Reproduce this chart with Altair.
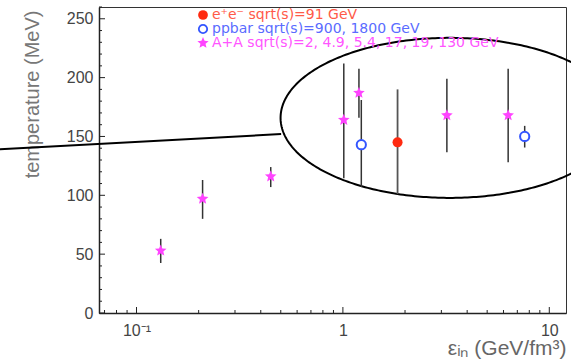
import numpy as np
import pandas as pd
import altair as alt

# ---------------- data ----------------
# A+A collisions (stars)
aa_x = [0.131, 0.209, 0.447, 1.01, 1.196, 3.19, 6.32]
aa_y = [53, 97, 116, 164, 187, 168, 168]
aa_lo = [42.5, 80, 107, 114.5, 166, 136.6, 128]
aa_hi = [63, 113, 124, 212, 207.5, 199, 207.5]

# ppbar (open circles)
pp_x = [1.228, 7.6]
pp_y = [143, 150]
pp_lo = [107, 140.6]
pp_hi = [181, 159]

# e+e- (filled circle)
ee_x = [1.84]
ee_y = [145]
ee_lo = [101]
ee_hi = [190]

legend_labels = [
    "e\u207ae\u207b sqrt(s)=91 GeV",
    "ppbar sqrt(s)=900, 1800 GeV",
    "A+A sqrt(s)=2, 4.9, 5.4, 17, 19, 130 GeV",
]

y_major = [0, 50, 100, 150, 200, 250]
y_minor = [v for v in range(0, 261, 10) if v % 50 != 0]
x_major = [0.1, 1, 10]
x_minor = [0.07, 0.08, 0.09, 0.2, 0.3, 0.4, 0.5, 0.6, 0.7, 0.8, 0.9,
           2, 3, 4, 5, 6, 7, 8, 9]

# annotation: straight line and ellipse (ellipse in log10(x) / y units)
line_x = [0.0216, 0.502]
line_y = [139.2, 152.0]
ELL_CX, ELL_A = 0.518, 0.820
ELL_CY, ELL_B = 165.8, 68.0

W, H = 467, 306
RED, BLUE, MAG = "#ff2a10", "#3355ff", "#ff44ff"

# five-pointed star as a custom symbol path (unit size)
_ang = np.deg2rad(-90 + 36 * np.arange(10))
_rad = np.where(np.arange(10) % 2 == 0, 1.0, 0.45)
STAR = "M" + "L".join(f"{r * np.cos(a):.4f},{r * np.sin(a):.4f}" for r, a in zip(_rad, _ang)) + "Z"

xs = alt.Scale(type="log", domain=[0.0658, 12.05], nice=False)
ys = alt.Scale(domain=[0, 260], nice=False, zero=False)

aa = pd.DataFrame({"x": aa_x, "y": aa_y, "lo": aa_lo, "hi": aa_hi})
pp = pd.DataFrame({"x": pp_x, "y": pp_y, "lo": pp_lo, "hi": pp_hi})
ee = pd.DataFrame({"x": ee_x, "y": ee_y, "lo": ee_lo, "hi": ee_hi})

t = np.linspace(0, 2 * np.pi, 361)
ell = pd.DataFrame({
    "x": 10 ** (ELL_CX + ELL_A * np.cos(t)),
    "y": ELL_CY + ELL_B * np.sin(t),
    "i": np.arange(len(t)),
})
ln = pd.DataFrame({"x": line_x, "y": line_y})

x_axis = alt.Axis(
    values=x_major, ticks=False, grid=False,
    labelExpr="datum.value < 0.5 ? '10\u207b\u00b9' : (datum.value < 5 ? '1' : '10')",
    labelFontSize=16, labelColor="#444", labelPadding=9, labelFont="Liberation Sans",
    title="\u03b5\u1d62\u2099 (GeV/fm\u00b3)", titleFontSize=21, titleColor="#666",
    titleFontWeight="normal", titleFont="Liberation Sans",
    titleAlign="right", titleX=W, titleY=41,
    titleBaseline="alphabetic",
)
y_axis = alt.Axis(
    values=y_major, ticks=False, grid=False,
    labelFontSize=16, labelColor="#444", labelPadding=6, labelFont="Liberation Sans",
    title="temperature (MeV)", titleFontSize=20, titleColor="#777",
    titleFontWeight="normal", titleFont="Liberation Sans",
    titleAngle=270, titleAlign="right", titleBaseline="alphabetic",
    titleX=-61, titleY=3,
)


def X(f):
    return alt.X(f, scale=xs, axis=x_axis)


def Y(f):
    return alt.Y(f, scale=ys, axis=y_axis)


ellipse = alt.Chart(ell).mark_line(color="black", strokeWidth=2).encode(
    x=X("x:Q"), y=Y("y:Q"), order="i:Q")
straight = alt.Chart(ln).mark_line(color="black", strokeWidth=2).encode(
    x=X("x:Q"), y=Y("y:Q"))


def bars(df, color="#333", w=1.5):
    return alt.Chart(df).mark_rule(color=color, strokeWidth=w).encode(
        x=X("x:Q"), y=Y("lo:Q"), y2="hi:Q")


aa_bars = bars(aa)
pp_bars = bars(pp)
ee_bars = bars(ee, "#555", 1.8)

aa_pts = alt.Chart(aa).mark_point(shape=STAR, filled=True, color=MAG,
                                  size=150, opacity=1).encode(x=X("x:Q"), y=Y("y:Q"))
pp_pts = alt.Chart(pp).mark_point(shape="circle", color=BLUE, fill="white", strokeWidth=2,
                                  size=85, opacity=1).encode(x=X("x:Q"), y=Y("y:Q"))
ee_pts = alt.Chart(ee).mark_circle(color=RED, size=100, opacity=1).encode(
    x=X("x:Q"), y=Y("y:Q"))

# inward ticks
ymaj = alt.Chart(pd.DataFrame({"y": y_major})).mark_rule(color="#222", strokeWidth=1).encode(
    y=Y("y:Q"), x=alt.value(0), x2=alt.value(6))
ymin = alt.Chart(pd.DataFrame({"y": y_minor})).mark_rule(color="#222", strokeWidth=1).encode(
    y=Y("y:Q"), x=alt.value(0), x2=alt.value(3))
xmaj = alt.Chart(pd.DataFrame({"x": x_major})).mark_rule(color="#222", strokeWidth=1).encode(
    x=X("x:Q"), y=alt.value(H), y2=alt.value(H - 6))
xmin = alt.Chart(pd.DataFrame({"x": x_minor})).mark_rule(color="#222", strokeWidth=1).encode(
    x=X("x:Q"), y=alt.value(H), y2=alt.value(H - 3))

# legend
leg_cols = [RED, BLUE, MAG]
leg_text_cols = ["#ff5a48", "#5a6cff", "#ff55ff"]
row_y = [8, 22, 36]
leg_layers = []
for k, (lab, c, tc, yy) in enumerate(zip(legend_labels, leg_cols, leg_text_cols, row_y)):
    one = pd.DataFrame({"label": [lab]})
    if k == 2:
        m = alt.Chart(one).mark_point(shape=STAR, filled=True, color=c, size=140, opacity=1)
    elif k == 1:
        m = alt.Chart(one).mark_point(shape="circle", color=c, strokeWidth=1.8,
                                      size=70, opacity=1)
    else:
        m = alt.Chart(one).mark_circle(color=c, size=95, opacity=1)
    leg_layers.append(m.encode(x=alt.value(104), y=alt.value(yy)))
    leg_layers.append(
        alt.Chart(one).mark_text(align="left", baseline="middle", fontSize=14,
                                 font="DejaVu Sans", color=tc).encode(
            x=alt.value(113), y=alt.value(yy), text="label:N"))

chart = alt.layer(
    straight, ellipse,
    ymaj, ymin, xmaj, xmin,
    aa_bars, pp_bars, ee_bars,
    aa_pts, pp_pts, ee_pts,
    *leg_layers,
).properties(
    width=W, height=H,
    autosize=alt.AutoSizeParams(type="none"),
    padding={"left": 99, "top": 7, "right": 5, "bottom": 47},
    background="white",
).configure_view(
    stroke="#333", strokeWidth=1
).configure_axis(
    domainColor="#222", domainWidth=1.5, grid=False
)

chart.save("out.html", embed_options={"renderer": "svg", "actions": False})
